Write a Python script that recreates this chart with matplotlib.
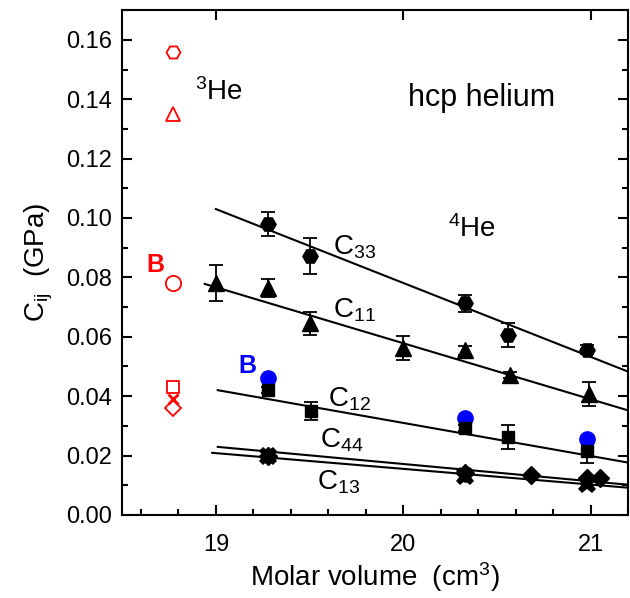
import numpy as np
import matplotlib
matplotlib.use("Agg")
import matplotlib.pyplot as plt
from matplotlib.ticker import MultipleLocator, FormatStrFormatter

plt.rcParams['font.family'] = ['Liberation Sans', 'DejaVu Sans']
plt.rcParams['mathtext.fontset'] = 'custom'
plt.rcParams['mathtext.rm'] = 'Liberation Sans'
plt.rcParams['mathtext.it'] = 'Liberation Sans'

# 4He data (molar volume cm3, modulus GPa, error)
v33 = [19.28, 19.50, 20.33, 20.56, 20.98]
c33 = [0.098, 0.0873, 0.0712, 0.0605, 0.0557]
e33 = [0.004, 0.006, 0.003, 0.004, 0.0015]

v11 = [19.00, 19.28, 19.50, 20.00, 20.33, 20.57, 20.99]
c11 = [0.0780, 0.0765, 0.0645, 0.0563, 0.0555, 0.0470, 0.0408]
e11 = [0.006, 0.003, 0.004, 0.004, 0.0015, 0.001, 0.004]

v12 = [19.28, 19.51, 20.33, 20.56, 20.98]
c12 = [0.0420, 0.0350, 0.0292, 0.0262, 0.0215]
e12 = [0.001, 0.003, 0.001, 0.004, 0.004]

vB = [19.28, 20.33, 20.98]
cB = [0.0460, 0.0327, 0.0256]

v44 = [19.28, 20.33, 20.98]
c44 = [0.0200, 0.0130, 0.0105]

v13 = [19.28, 20.33, 20.68, 20.98, 21.05]
c13 = [0.0200, 0.0140, 0.0135, 0.0125, 0.0125]

# linear fits (end points)
fit_x = {'33': [19.0, 21.21], '11': [18.94, 21.21], '12': [19.01, 21.21],
         '44': [19.01, 21.21], '13': [18.98, 21.21]}
fit_y = {'33': [0.1030, 0.0480], '11': [0.0778, 0.0350], '12': [0.0420, 0.0175],
         '44': [0.0229, 0.0101], '13': [0.0209, 0.0091]}

# 3He data
v3 = 18.77
c3_33 = 0.156
c3_11 = 0.135
c3_B = 0.078
c3_12 = 0.043
c3_44 = 0.039
c3_13 = 0.036

fig, ax = plt.subplots(figsize=(6.3, 5.98), dpi=100)
fig.subplots_adjust(left=0.194, right=0.997, top=0.983, bottom=0.139)

for k in fit_x:
    ax.plot(fit_x[k], fit_y[k], color='black', lw=1.5)

eb = dict(color='black', capsize=5, elinewidth=1.3, capthick=1.3)
ax.errorbar(v33, c33, yerr=e33, fmt='H', ms=11, **eb)
ax.errorbar(v11, c11, yerr=e11, fmt='^', ms=11, **eb)
ax.errorbar(v12, c12, yerr=e12, fmt='s', ms=9, **eb)
ax.plot(vB, cB, 'o', color='blue', ms=11)
ax.plot(v44, c44, 'X', color='black', ms=13, mew=0)
ax.plot(v13, c13, 'D', color='black', ms=9)

red = dict(color='red', mfc='none', mew=1.3, ls='none')
ax.plot(v3, c3_33, 'H', ms=10, **red)
ax.plot(v3, c3_11, '^', ms=10, **red)
ax.plot(v3, c3_B, 'o', ms=11, **red)
ax.plot(v3, c3_12, 's', ms=9, **red)
ax.plot(v3, c3_44, 'x', ms=7, mew=2, color='red', ls='none')
ax.plot(v3, c3_13, 'D', ms=8, **red)

ax.text(18.676, 0.084, 'B', color='red', fontsize=18, fontweight='bold', ha='center', va='center')
ax.text(19.167, 0.0502, 'B', color='blue', fontsize=18, fontweight='bold', ha='center', va='center')

ax.text(18.89, 0.1397, r'$^{3}$He', fontsize=20, va='baseline')
ax.text(20.24, 0.0936, r'$^{4}$He', fontsize=20, va='baseline')
ax.text(20.025, 0.1378, 'hcp helium', fontsize=22, va='baseline')

ax.text(19.625, 0.0876, r'C$_{33}$', fontsize=20, va='baseline')
ax.text(19.625, 0.0664, r'C$_{11}$', fontsize=20, va='baseline')
ax.text(19.60, 0.0364, r'C$_{12}$', fontsize=20, va='baseline')
ax.text(19.556, 0.0226, r'C$_{44}$', fontsize=20, va='baseline')
ax.text(19.54, 0.0084, r'C$_{13}$', fontsize=20, va='baseline')

ax.set_xlim(18.5, 21.2)
ax.set_ylim(0, 0.17)
ax.xaxis.set_major_locator(MultipleLocator(1))
ax.xaxis.set_minor_locator(MultipleLocator(0.2))
ax.yaxis.set_major_locator(MultipleLocator(0.02))
ax.yaxis.set_minor_locator(MultipleLocator(0.01))
ax.yaxis.set_major_formatter(FormatStrFormatter('%.2f'))
ax.tick_params(which='both', direction='in', top=True, right=True, labelsize=17, width=1.5)
ax.tick_params(which='major', length=7, pad=7)
ax.tick_params(axis='x', which='major', pad=14)
ax.tick_params(which='minor', length=4, top=False)
for s in ax.spines.values():
    s.set_linewidth(1.5)

ax.set_xlabel(r'Molar volume  (cm$^{3}$)', fontsize=20, labelpad=3)
ax.set_ylabel(r'C$_{\rm ij}$  (GPa)', fontsize=20, labelpad=8)

fig.savefig('out.png', dpi=100)
